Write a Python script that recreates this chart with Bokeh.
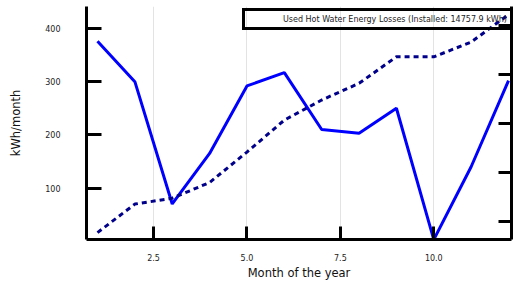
from bokeh.plotting import figure
from bokeh.models import (LinearAxis, Range1d, FixedTicker, Legend, LegendItem,
                          ColumnDataSource, CustomJSTickFormatter)
from bokeh.embed import file_html
from bokeh.resources import INLINE

months = [1, 2, 3, 4, 5, 6, 7, 8, 9, 10, 11, 12]
losses = [376, 300, 70, 165, 292, 317, 210, 203, 250, 3, 140, 302]
secondary = [7.8, 13.6, 14.8, 18.0, 24.2, 30.7, 34.8, 38.2, 43.6, 43.6, 46.6, 52.2]
legend_label = "Used Hot Water Energy Losses (Installed: 14757.9 kWh)"
x_ticks = [2.5, 5.0, 7.5, 10.0]
x_tick_labels = {2.5: "2.5", 5.0: "5.0", 7.5: "7.5", 10.0: "10.0"}
y_ticks = [100, 200, 300, 400]
y2_ticks = [10, 20, 30, 40, 50]

FONT = "DejaVu Sans"

p = figure(width=515, height=282, output_backend="svg", toolbar_location=None,
           x_range=Range1d(0.7056, 12.08), y_range=Range1d(3.2, 441.4),
           min_border_left=86, min_border_right=4, min_border_top=6, min_border_bottom=42)
p.outline_line_color = None
p.background_fill_color = "white"
p.border_fill_color = "white"

p.extra_y_ranges = {"right": Range1d(6.39, 53.85)}

src = ColumnDataSource(dict(x=months, y=losses, y2=secondary))

r1 = p.line("x", "y", source=src, line_color="#0000ff", line_width=3)
r2 = p.line("x", "y2", source=src, line_color="#00008b", line_width=3,
            line_dash="5 4", y_range_name="right")
dummy = p.line(x=[], y=[], line_color="#0000ff", line_width=1)

def style_axis(ax, tick_in):
    ax.axis_line_width = 3
    ax.axis_line_color = "black"
    ax.major_tick_line_width = 3
    ax.major_tick_line_color = "black"
    ax.major_tick_in = tick_in
    ax.major_tick_out = 0
    ax.minor_tick_line_color = None
    ax.major_label_text_font = FONT
    ax.major_label_text_font_size = "8px"
    ax.major_label_text_color = "#222222"
    ax.axis_label_text_font = FONT
    ax.axis_label_text_font_size = "11.5px"
    ax.axis_label_text_font_style = "normal"
    ax.axis_label_text_color = "#111111"

xa = p.xaxis[0]
style_axis(xa, 13)
xa.ticker = FixedTicker(ticks=x_ticks)
xa.major_label_overrides = x_tick_labels
xa.major_label_standoff = 14
xa.axis_label = "Month of the year"
xa.axis_label_standoff = 2

ya = p.yaxis[0]
style_axis(ya, 15)
ya.ticker = FixedTicker(ticks=y_ticks)
ya.major_label_standoff = 26
ya.axis_label = "kWh/month"
ya.axis_label_standoff = 19

ra = LinearAxis(y_range_name="right")
style_axis(ra, 13)
ra.ticker = FixedTicker(ticks=y2_ticks)
ra.formatter = CustomJSTickFormatter(code="return ''")
ra.major_label_standoff = 0
ra.major_label_text_font_size = "0px"
ra.axis_label_standoff = 0
p.add_layout(ra, "right")

p.xgrid.ticker = FixedTicker(ticks=x_ticks)
p.xgrid.grid_line_color = "#e3e3e3"
p.xgrid.grid_line_width = 1
p.ygrid.grid_line_color = None

legend = Legend(items=[LegendItem(label=legend_label, renderers=[dummy])],
                location=(156, 209), level="underlay")
legend.border_line_color = "black"
legend.border_line_alpha = 1.0
legend.border_line_width = 3
legend.background_fill_color = "white"
legend.background_fill_alpha = 0.0
legend.padding = 3
legend.margin = 0
legend.spacing = 0
legend.glyph_width = 29
legend.glyph_height = 10
legend.label_height = 10
legend.label_standoff = 6
legend.label_text_font = FONT
legend.label_text_font_size = "8px"
legend.label_text_color = "#222222"
p.add_layout(legend, "center")

open("out.html", "w").write(file_html(p, INLINE))
